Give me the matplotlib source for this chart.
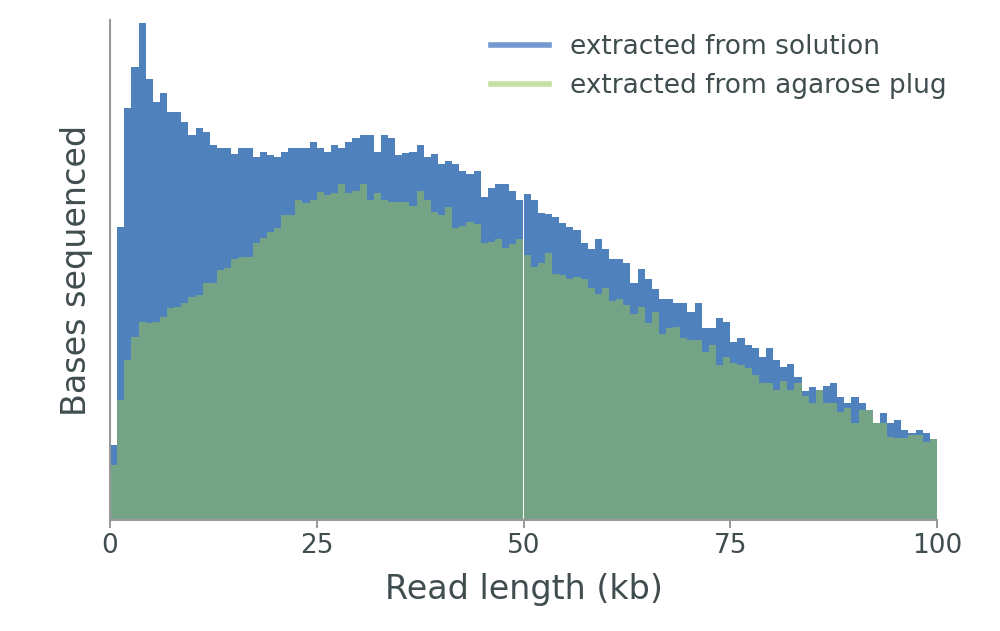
import numpy as np
import matplotlib.pyplot as plt
from matplotlib.lines import Line2D

# bar tops (pixel rows, baseline at 520)
solution_top = [445, 227, 108, 67, 23, 79, 102, 93, 112, 112, 122, 135, 128, 132, 145, 148, 148, 154, 148, 148,
                157, 152, 155, 157, 152, 148, 148, 148, 142, 148, 152, 145, 148, 142, 138, 135, 135, 152, 135, 138,
                155, 153, 152, 145, 157, 154, 164, 161, 164, 171, 174, 171, 197, 188, 184, 184, 191, 200, 194, 200,
                213, 214, 217, 223, 227, 230, 243, 249, 239, 249, 259, 259, 263, 283, 269, 279, 289, 299, 299, 303,
                303, 312, 303, 328, 328, 318, 322, 342, 338, 345, 348, 357, 348, 360, 367, 364, 377, 391, 387, 390,
                386, 383, 397, 403, 397, 403, 410, 423, 413, 423, 420, 430, 433, 430, 433, 439]
plug_top = [465, 400, 360, 337, 322, 323, 322, 317, 308, 307, 303, 297, 295, 283, 283, 270, 268, 259, 257, 257,
            243, 238, 232, 228, 215, 215, 200, 203, 200, 192, 195, 193, 184, 193, 191, 184, 200, 193, 200, 202,
            202, 202, 206, 191, 200, 212, 215, 207, 228, 226, 222, 224, 243, 242, 239, 248, 244, 239, 255, 267,
            263, 253, 274, 275, 279, 277, 279, 288, 294, 288, 301, 299, 305, 314, 307, 323, 312, 334, 328, 327,
            338, 340, 340, 352, 345, 365, 357, 363, 365, 368, 375, 383, 383, 390, 381, 390, 383, 396, 403, 390,
            403, 403, 412, 408, 423, 410, 410, 423, 423, 437, 438, 438, 435, 435, 442, 439]
labels = ['extracted from solution', 'extracted from agarose plug']

solution = 520 - np.array(solution_top)
plug = 520 - np.array(plug_top)
edges = np.linspace(0, 100, len(solution) + 1)
width = edges[1] - edges[0]

text_col = '#3f4d4f'
fig = plt.figure(figsize=(10, 6.31), dpi=100)
ax = fig.add_axes([0.11, 0.176, 0.827, 0.792])
ax.bar(edges[:-1], solution, width=width, align='edge', color='#4f81bd', linewidth=0)
ax.bar(edges[:-1], plug, width=width, align='edge', color='#75a386', linewidth=0)

ax.set_xlim(0, 100)
ax.set_ylim(0, 500)
ax.set_yticks([])
ax.set_xticks([0, 25, 50, 75, 100])
ax.tick_params(axis='x', labelsize=19, colors='#888888', labelcolor=text_col, length=6, width=1.2)
for s in ['top', 'right']:
    ax.spines[s].set_visible(False)
for s in ['left', 'bottom']:
    ax.spines[s].set_color('#999999')
    ax.spines[s].set_linewidth(1.5)
ax.set_xlabel('Read length (kb)', fontsize=24, color=text_col, labelpad=10)
ax.set_ylabel('Bases sequenced', fontsize=24, color=text_col, labelpad=12)

handles = [Line2D([], [], color='#7399d0', lw=4), Line2D([], [], color='#c6dfa2', lw=4)]
leg = ax.legend(handles, labels, loc='upper right', bbox_to_anchor=(1.04, 1.02), frameon=False,
                fontsize=19, handlelength=2.2)
for t in leg.get_texts():
    t.set_color(text_col)

fig.savefig('out.png', dpi=100)
